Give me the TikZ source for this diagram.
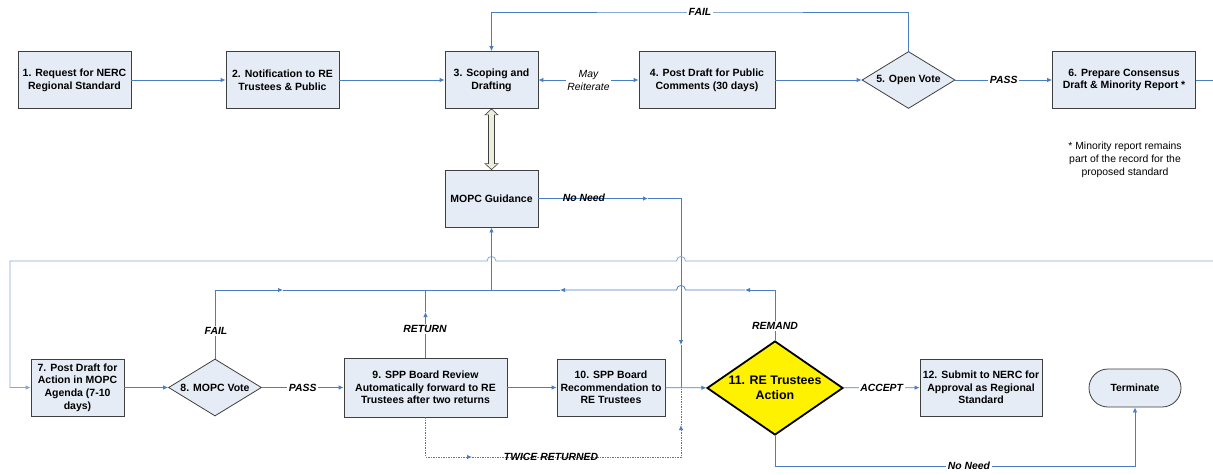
\documentclass[tikz,border=0pt]{standalone}
\usepackage{fontspec}
\setmainfont{Liberation Sans}
\usetikzlibrary{arrows.meta, shapes.geometric, calc}

\definecolor{flowblue}{HTML}{4A7EC4}
\definecolor{backblue}{HTML}{86A5D8}
\definecolor{boxfill}{HTML}{E6ECF6}
\definecolor{boxline}{HTML}{3F3F3F}
\definecolor{actionyellow}{HTML}{FFF200}
\definecolor{shaftfill}{HTML}{EEEEDC}

\tikzset{
  >={Latex[length=5pt,width=4.5pt]},
  stepbox/.style={draw=boxline, fill=boxfill, line width=0.8pt, align=center, inner sep=1pt,
    minimum height=57pt, font=\bfseries\fontsize{10.5}{12.7}\selectfont},
  vote/.style={diamond, aspect=1.66, draw=boxline, fill=boxfill, line width=0.8pt, inner sep=0pt,
    align=center, minimum width=93pt, minimum height=57pt, font=\bfseries\fontsize{10.5}{12.7}\selectfont},
  wire/.style={draw=flowblue, line width=0.8pt},
  flow/.style={wire, ->},
  backline/.style={draw=backblue, line width=0.8pt},
  cond/.style={font=\bfseries\itshape\fontsize{10.4}{12}\selectfont, fill=white, inner sep=1.5pt},
}

\begin{document}
\begin{tikzpicture}[x=1pt, y=-1pt]
\useasboundingbox (0,0) rectangle (1213,474);

% top row
\node[stepbox, minimum width=113pt] (s1) at (74.5,80) {1. Request for NERC\\Regional Standard};
\node[stepbox, minimum width=113pt] (s2) at (282.5,80) {2. Notification to RE\\Trustees \& Public};
\node[stepbox, minimum width=93pt] (s3) at (491.5,80) {3. Scoping and\\Drafting};
\node[stepbox, minimum width=136pt] (s4) at (707,80) {4. Post Draft for Public\\Comments (30 days)};
\node[vote] (v5) at (908.5,80) {5. Open Vote};
\node[stepbox, minimum width=143pt] (s6) at (1124,80) {6. Prepare Consensus\\Draft \& Minority Report *};
\node[align=center, font=\fontsize{10.4}{13}\selectfont] (note) at (1125,160)
  {* Minority report remains\\part of the record for the\\proposed standard};
\node[stepbox, minimum width=93pt] (mopc) at (491.5,198.5) {MOPC Guidance};

% bottom row
\node[stepbox, minimum width=93pt] (s7) at (77.5,387.5) {7. Post Draft for\\Action in MOPC\\Agenda (7-10\\days)};
\node[vote] (v8) at (215,387.5) {8. MOPC Vote};
\node[stepbox, minimum width=163pt, minimum height=59pt] (s9) at (425.5,387.5)
  {9. SPP Board Review\\Automatically forward to RE\\Trustees after two returns};
\node[stepbox, minimum width=108pt] (s10) at (611,387.5) {10. SPP Board\\Recommendation to\\RE Trustees};
\node[diamond, aspect=1.45, draw=black, fill=actionyellow, line width=1.8pt, inner sep=0pt,
  minimum width=136pt, minimum height=94pt, align=center,
  font=\bfseries\fontsize{12.4}{14.5}\selectfont] (v11) at (775,388) {11. RE Trustees\\Action};
\node[stepbox, minimum width=122pt] (s12) at (981,387.5) {12. Submit to NERC for\\Approval as Regional\\Standard};
\node[draw=boxline, fill=boxfill, line width=0.8pt, rounded corners=19pt, minimum width=92pt,
  minimum height=38pt, font=\bfseries\fontsize{10.4}{12}\selectfont] (term) at (1135,388) {Terminate};

% points on the connectors
\coordinate (out6) at (1213,80);
\coordinate (failtop) at (700,12);
\coordinate (nnarr) at (648,198.5);
\coordinate (nndown) at (681,345);
\coordinate (jn) at (681,388);
\coordinate (backin) at (1213,261);
\coordinate (jm) at (491.5,290);
\coordinate (fail8) at (283,290);
\coordinate (retarr) at (425.5,312);
\coordinate (rem1) at (745,290);
\coordinate (rem2) at (560,290);
\coordinate (tw1) at (472,457);
\coordinate (tw2) at (681,425);
\coordinate (nb) at (969,466);

% top row connectors
\draw[flow] (s1) -- (s2);
\draw[flow] (s2) -- (s3);
\draw[wire, <->] (s3) -- (s4)
  node[midway, fill=white, inner sep=1pt, align=center, font=\itshape\fontsize{10.4}{13}\selectfont] (reit) {May\\Reiterate};
\draw[flow] (s4) -- (v5);
\draw[flow] (v5) -- (s6) node[cond, midway] (pass5) {PASS};
\draw[wire] (s6) -- (out6);
\draw[flow] (v5.north) |- (failtop) -| (s3.north);
\node[cond] (fail5) at (failtop) {FAIL};

% hollow double arrow
\draw[draw=boxline, fill=shaftfill, line width=0.6pt] (s3.south) -- ++(6.5,6) -- ++(-3.5,0)
  -- ($(mopc.north)+(3,-6)$) -- ++(3.5,0) -- (mopc.north) -- ++(-6.5,-6) -- ++(3.5,0)
  -- ($(s3.south)+(-3,6)$) -- ++(-3.5,0) -- cycle;

% no need from guidance
\draw[flow] (mopc) -- (nnarr);
\draw[flow] (nnarr) -| (nndown);
\draw[wire] (nndown) -- (jn);
\node[cond, fill=none] (nn1) at (584,198) {No Need};

% long line back to step 7
\draw[backline, ->] (backin) -- (685.5,261) .. controls +(0,-6) and +(0,-6) .. (676.5,261)
  -- (496,261) .. controls +(0,-6) and +(0,-6) .. (487,261) -- (10,261) |- (s7.west);

% bottom row connectors
\draw[flow] (s7) -- (v8);
\draw[flow] (v8) -- (s9) node[cond, midway] (pass8) {PASS};
\draw[flow] (s9) -- (s10);
\draw[flow] (s10) -- (v11);
\draw[flow] (v11) -- (s12) node[cond, midway] (acc) {ACCEPT};

% returns to guidance
\draw[flow] (v8.north) |- (fail8);
\draw[wire] (fail8) -- (jm);
\draw[flow] (s9.north) -- (retarr);
\draw[wire] (retarr) |- (jm);
\draw[flow] (v11.north) |- (rem1);
\draw[flow] (rem1) -- (685.5,290) .. controls +(0,-6) and +(0,-6) .. (676.5,290) -- (rem2);
\draw[wire] (rem2) -- (jm);
\draw[flow] (jm) -- (mopc);
\node[cond] (fail8lbl) at (216,331) {FAIL};
\node[cond] (retlbl) at (425,329) {RETURN};
\node[cond] (remlbl) at (775,326) {REMAND};

% twice returned
\draw[flow, dash pattern=on 1.5pt off 1pt] (s9.south) |- (tw1);
\draw[flow, dash pattern=on 1.5pt off 1pt] (tw1) -| (tw2);
\draw[wire, dash pattern=on 1.5pt off 1pt] (tw2) -- (jn);
\node[cond, fill=none] (twlbl) at (551,457) {TWICE RETURNED};

% no need to terminate
\draw[wire] (v11.south) |- (nb);
\draw[flow] (nb) -| (term.south);
\node[cond] (nblbl) at (nb) {No Need};
\end{tikzpicture}
\end{document}
